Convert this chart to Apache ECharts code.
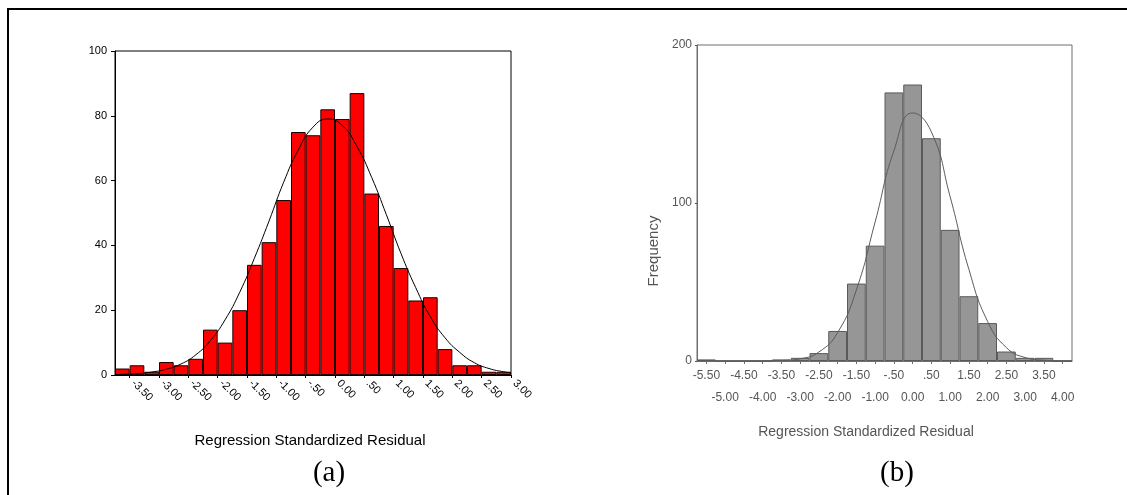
<!DOCTYPE html>
<html>
<head>
<meta charset="utf-8">
<script src="https://cdn.jsdelivr.net/npm/echarts@6/dist/echarts.min.js"></script>
<style>
  html, body { margin: 0; padding: 0; background: #fff; }
  #chart { width: 1127px; height: 495px; }
</style>
</head>
<body>
<div id="chart"></div>
<script>
// (a) residual bins (width .25, named by upper edge) and counts
const binsA = ['-3.50', '-3.25', '-3.00', '-2.75', '-2.50', '-2.25', '-2.00', '-1.75', '-1.50', '-1.25',
  '-1.00', '-.75', '-.50', '-.25', '0.00', '.25', '.50', '.75', '1.00', '1.25',
  '1.50', '1.75', '2.00', '2.25', '2.50', '2.75', '3.00'];
const countsA = [2, 3, 1, 4, 3, 5, 14, 10, 20, 34, 41, 54, 75, 74, 82, 79, 87, 56, 46, 33, 23, 24, 8, 3, 3, 1, 1];
// tick labels of (a), they sit on bin edges
const tickValuesA = [-3.5, -3.0, -2.5, -2.0, -1.5, -1.0, -0.5, 0, 0.5, 1.0, 1.5, 2.0, 2.5, 3.0];
const tickLabelsA = ['-3.50', '-3.00', '-2.50', '-2.00', '-1.50', '-1.00', '-.50', '0.00', '.50', '1.00', '1.50', '2.00', '2.50', '3.00'];
const curveAX = [-3.75, -3.625, -3.375, -3.125, -2.875, -2.625, -2.375, -2.125, -1.875, -1.625, -1.375, -1.125, -0.875, -0.625, -0.375,
  -0.125, 0.125, 0.375, 0.625, 0.875, 1.125, 1.375, 1.625, 1.875, 2.125, 2.375, 2.625, 2.875, 3.0];
const curveAY = [0.1, 0.2, 0.4, 0.9, 1.8, 3.4, 6.2, 10.6, 17, 25.5, 36, 47.5, 59.5, 69.5, 76.5,
  79, 77, 70.5, 61, 49.5, 37.5, 27, 18, 11.5, 7, 3.8, 2, 1, 0.7];

// (b) residual bins (bin centres, width .5) and counts
const binsB = ['-5.50', '-5.00', '-4.50', '-4.00', '-3.50', '-3.00', '-2.50', '-2.00', '-1.50', '-1.00',
  '-.50', '0.00', '.50', '1.00', '1.50', '2.00', '2.50', '3.00', '3.50', '4.00'];
const countsB = [1, 0, 0, 0, 1, 2, 5, 19, 49, 73, 170, 175, 141, 83, 41, 24, 6, 2, 2, 0];
const curveBX = [-5.75, -5.5, -5.0, -4.5, -4.0, -3.5, -3.0, -2.5, -2.0, -1.5, -1.0, -0.5,
  0, 0.5, 1.0, 1.5, 2.0, 2.5, 3.0, 3.5, 4.0, 4.25];
const curveBY = [0, 0, 0, 0, 0.1, 0.3, 1.4, 5.7, 18, 45, 88, 133,
  157, 145, 104, 58, 25, 8.5, 2.2, 0.5, 0.1, 0];

const yTicksA = [0, 100, 20];   // min, max, step
const yTicksB = [0, 200, 100];

const sans = 'Arial, "Liberation Sans", sans-serif';
const serif = '"Times New Roman", "Liberation Serif", serif';

const zip = (xs, ys) => xs.map((x, i) => [x, ys[i]]);

const option = {
  backgroundColor: '#fff',
  animation: false,
  grid: [
    { left: 115, top: 51, width: 396, height: 324, show: true, borderColor: '#000', borderWidth: 1, containLabel: false },
    { left: 697, top: 45, width: 375, height: 316, show: true, borderColor: '#6e6e6e', borderWidth: 1, containLabel: false }
  ],
  xAxis: [
    {
      type: 'category', gridIndex: 0, position: 'bottom', data: binsA, boundaryGap: true,
      axisLine: { lineStyle: { color: '#000' } },
      axisTick: { show: false },
      axisLabel: { show: false }
    },
    {
      type: 'value', gridIndex: 0, position: 'bottom', offset: 0, min: -3.75, max: 3.0,
      axisLine: { show: false },
      splitLine: { show: false },
      axisTick: { show: true, customValues: tickValuesA, length: 3, lineStyle: { color: '#000' } },
      axisLabel: {
        customValues: tickValuesA, rotate: -45, margin: 3, padding: [0, 0, 0, 5],
        color: '#000', fontSize: 11, fontFamily: sans,
        formatter: (v) => tickLabelsA[tickValuesA.indexOf(v)]
      }
    },
    {
      type: 'category', gridIndex: 1, data: binsB, boundaryGap: true,
      axisLine: { lineStyle: { color: '#6e6e6e' } },
      axisTick: { show: true, interval: 0, alignWithLabel: true, length: 3, lineStyle: { color: '#6e6e6e' } },
      axisLabel: {
        interval: 0, margin: 4, color: '#555', fontSize: 12, fontFamily: sans, lineHeight: 22,
        formatter: (v, i) => (i % 2 === 0 ? v : '\n' + v)
      }
    },
    { type: 'value', gridIndex: 1, min: -5.75, max: 4.25, show: false }
  ],
  yAxis: [
    {
      type: 'value', gridIndex: 0, min: yTicksA[0], max: yTicksA[1], interval: yTicksA[2],
      axisLine: { show: true, onZero: false, lineStyle: { color: '#000' } },
      axisTick: { show: true, length: 4, lineStyle: { color: '#000' } },
      axisLabel: { color: '#000', fontSize: 11, fontFamily: sans, margin: 8 },
      splitLine: { show: false }
    },
    {
      type: 'value', gridIndex: 1, min: yTicksB[0], max: yTicksB[1], interval: yTicksB[2],
      axisLine: { show: true, onZero: false, lineStyle: { color: '#6e6e6e' } },
      axisTick: { show: true, length: 2, lineStyle: { color: '#555' } },
      axisLabel: { color: '#555', fontSize: 12, fontFamily: sans, margin: 5 },
      splitLine: { show: false }
    }
  ],
  series: [
    {
      type: 'bar', xAxisIndex: 0, yAxisIndex: 0, data: countsA, barCategoryGap: '0%',
      itemStyle: { color: '#ff0000', borderColor: '#1a0000', borderWidth: 1 }
    },
    {
      type: 'line', xAxisIndex: 1, yAxisIndex: 0, data: zip(curveAX, curveAY), smooth: true,
      symbol: 'none', lineStyle: { color: '#000', width: 1 }, z: 5
    },
    {
      type: 'bar', xAxisIndex: 2, yAxisIndex: 1, data: countsB, barCategoryGap: '0%',
      itemStyle: { color: '#969696', borderColor: '#5a5a5a', borderWidth: 1 }
    },
    {
      type: 'line', xAxisIndex: 3, yAxisIndex: 1, data: zip(curveBX, curveBY), smooth: true,
      symbol: 'none', lineStyle: { color: '#5c5c5c', width: 1 }, z: 5
    }
  ],
  graphic: [
    { type: 'rect', shape: { x: 8, y: 9, width: 1300, height: 700 }, style: { fill: 'none', stroke: '#000', lineWidth: 2 }, silent: true },
    { type: 'text', x: 310, y: 441, style: { text: 'Regression Standardized Residual', font: '15px ' + sans, fill: '#000', textAlign: 'center', textVerticalAlign: 'middle' } },
    { type: 'text', x: 329, y: 473, style: { text: '(a)', font: '29px ' + serif, fill: '#000', textAlign: 'center', textVerticalAlign: 'middle' } },
    { type: 'text', x: 866, y: 432, style: { text: 'Regression Standardized Residual', font: '14px ' + sans, fill: '#555', textAlign: 'center', textVerticalAlign: 'middle' } },
    { type: 'text', x: 897, y: 473, style: { text: '(b)', font: '29px ' + serif, fill: '#000', textAlign: 'center', textVerticalAlign: 'middle' } },
    { type: 'text', x: 654, y: 251, rotation: Math.PI / 2, style: { text: 'Frequency', font: '15px ' + sans, fill: '#555', textAlign: 'center', textVerticalAlign: 'middle' } }
  ]
};

const chartInstance = echarts.init(document.getElementById('chart'));
chartInstance.setOption(option);
</script>
</body>
</html>
